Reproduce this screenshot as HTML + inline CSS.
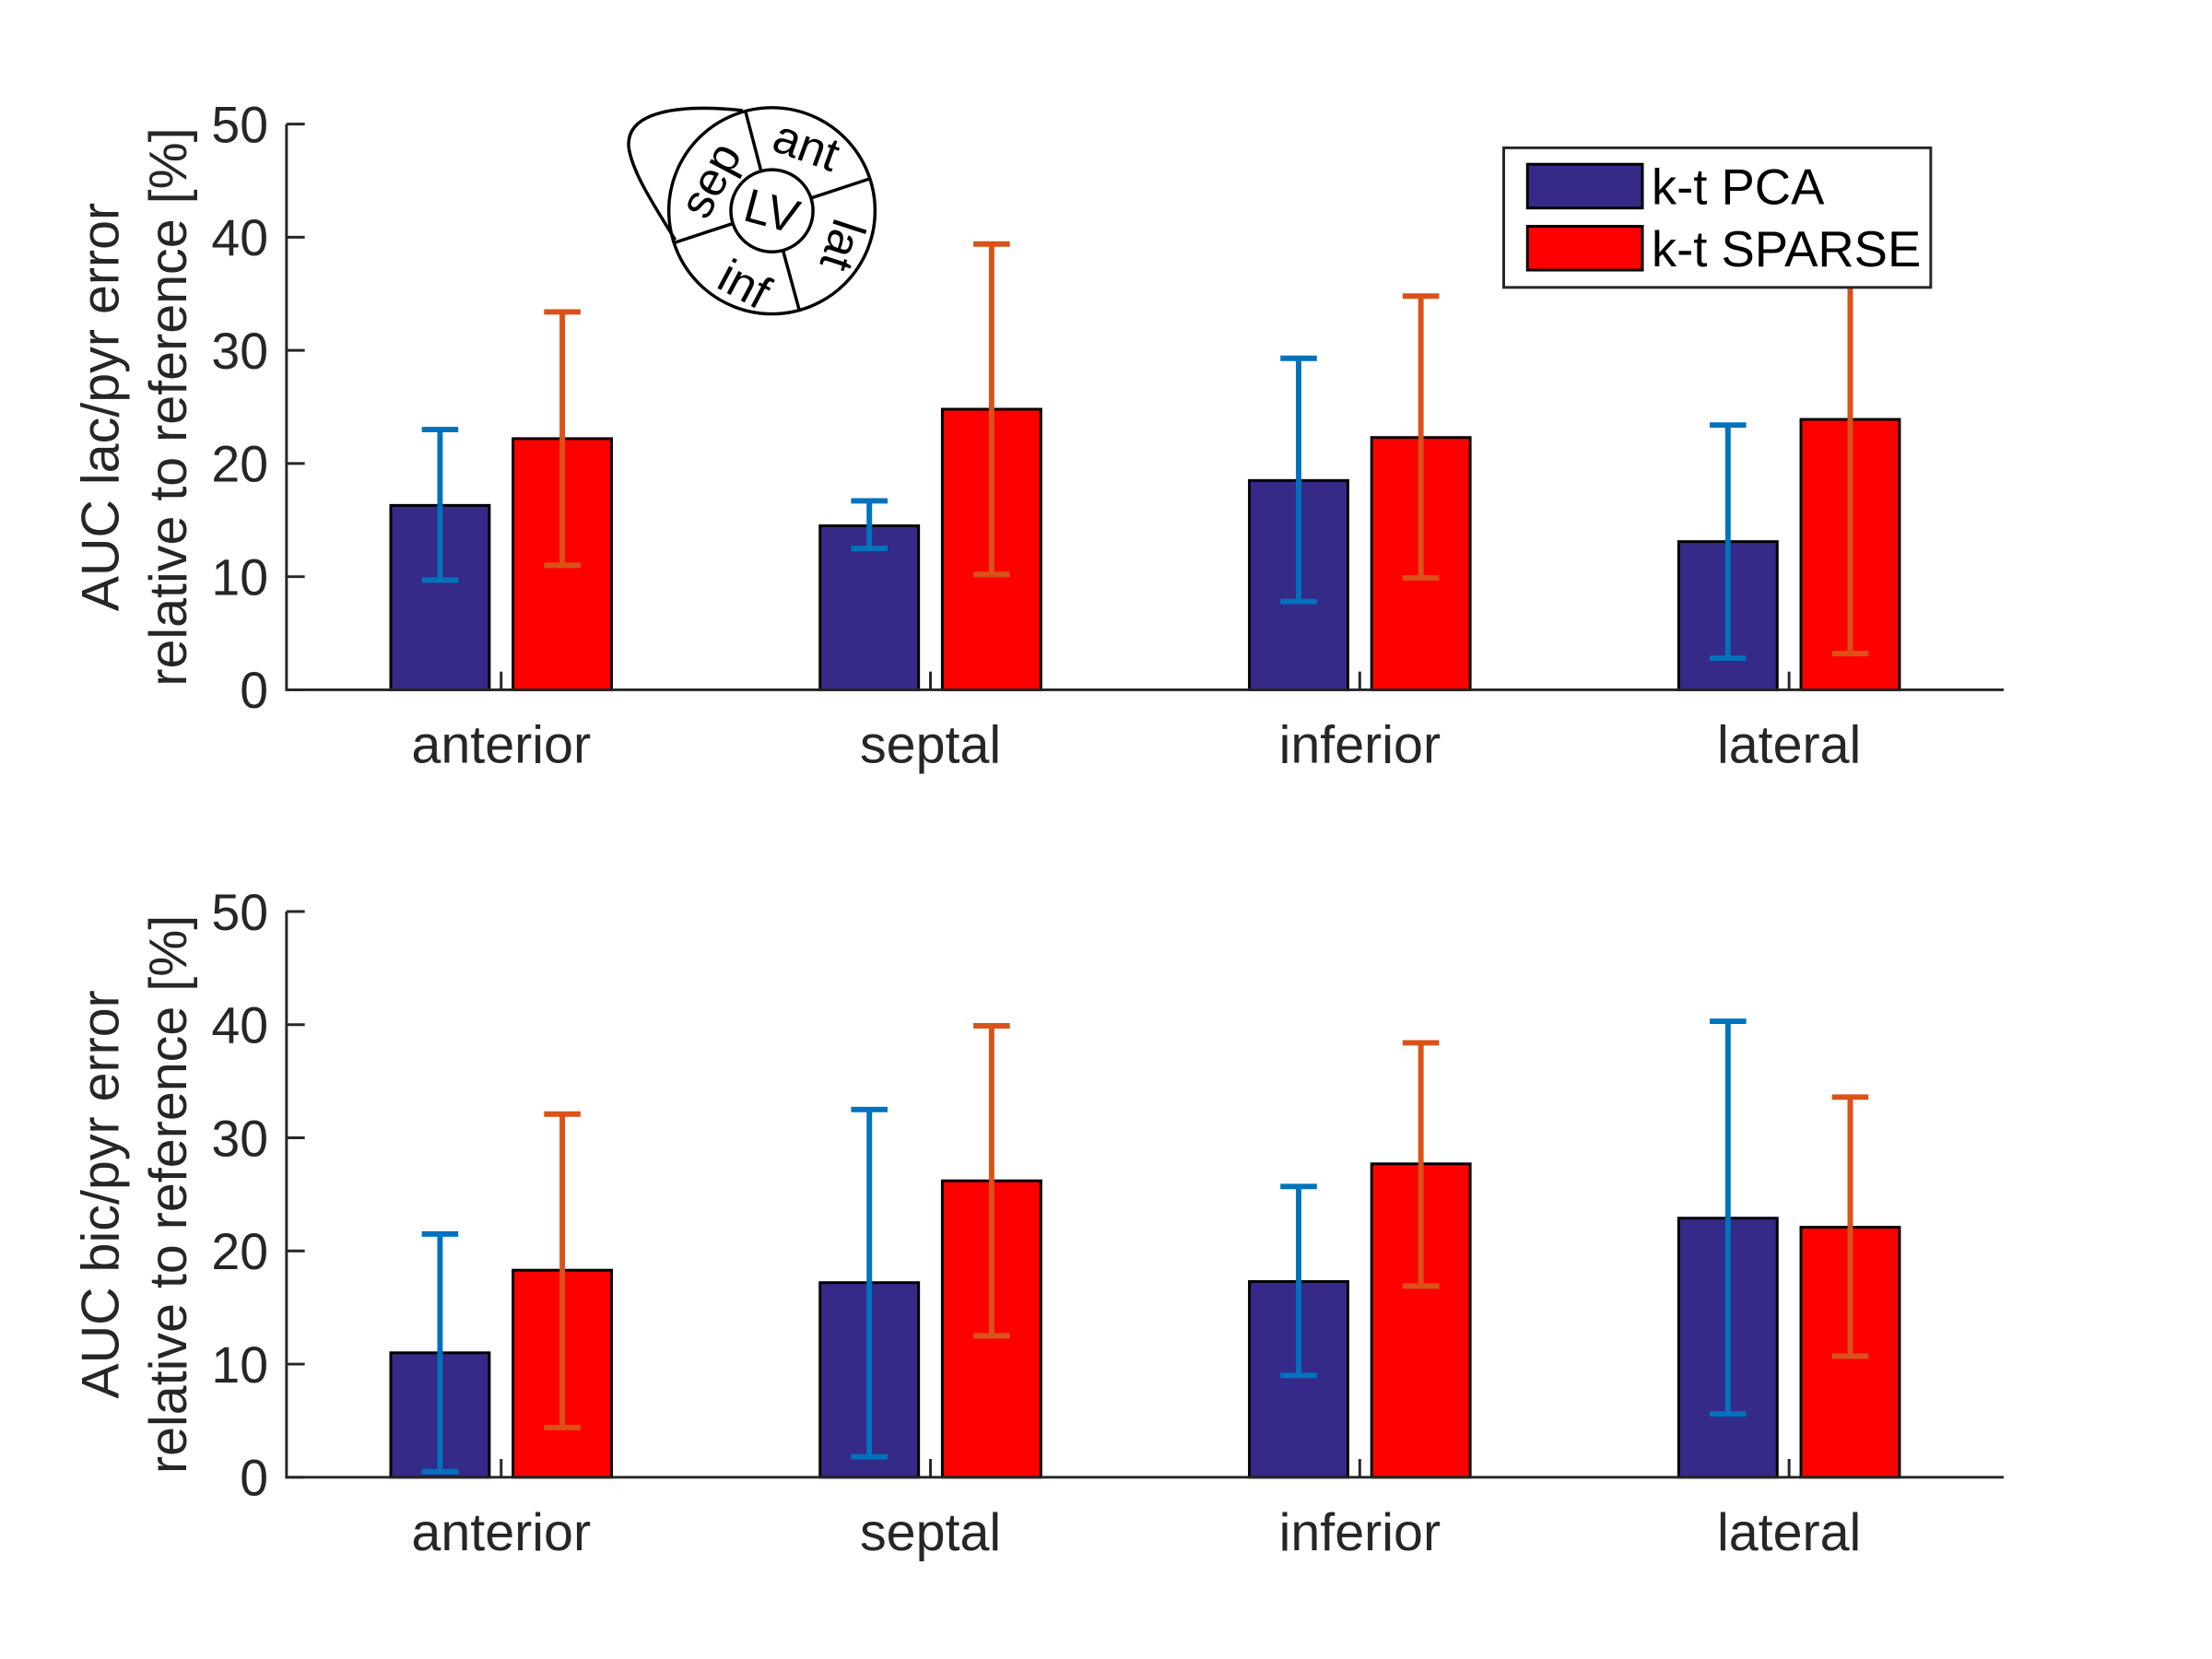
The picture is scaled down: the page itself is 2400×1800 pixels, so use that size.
<!DOCTYPE html>
<html><head><meta charset="utf-8"><style>
html,body{margin:0;padding:0;background:#fff}
svg{display:block}
text{font-family:"Liberation Sans",Arial,sans-serif}
</style></head><body>
<svg width="2400" height="1800" viewBox="0 0 2400 1800" xmlns="http://www.w3.org/2000/svg">
<rect width="2400" height="1800" fill="#fff"/>
<g id="chart" transform="scale(0.99)">
<g id="heart" transform="translate(846,231)" fill="none" stroke="#000" stroke-width="3.5">
  <path d="M -32,-110 C -100,-117 -160,-110 -157,-70 C -153,-40 -125,0 -106,32"/>
  <circle r="113"/>
  <circle r="45"/>
  <line x1="-12" y1="-44" x2="-29" y2="-109"/>
  <line x1="43" y1="-14" x2="107" y2="-35"/>
  <line x1="12" y1="43" x2="30" y2="109"/>
  <line x1="-43" y1="14" x2="-107" y2="35"/>
  <g stroke="none" fill="#000" font-size="52">
    <text text-anchor="middle" dominant-baseline="central" transform="rotate(15)">LV</text>
    <text text-anchor="middle" dominant-baseline="central" transform="translate(38,-72) rotate(20)">ant</text>
    <text text-anchor="middle" dominant-baseline="central" transform="translate(-68,-34) rotate(-62)">sep</text>
    <text text-anchor="middle" dominant-baseline="central" transform="translate(78,38) rotate(108)">lat</text>
    <text text-anchor="middle" dominant-baseline="central" transform="translate(-30,80) rotate(28)">inf</text>
  </g>
</g>
</g>
</svg>
<script>
const categories = ["anterior","septal","inferior","lateral"];
const seriesNames = ["k-t PCA","k-t SPARSE"];
const yTicks = [0,10,20,30,40,50];
const lacPca = [16.3,14.5,18.5,13.1];
const lacPcaLow = [9.7,12.5,7.8,2.8];
const lacPcaHigh = [23.0,16.7,29.3,23.4];
const lacSparse = [22.2,24.8,22.3,23.9];
const lacSparseLow = [11.0,10.2,9.9,3.2];
const lacSparseHigh = [33.4,39.4,34.8,44.6];
const bicPca = [11.0,17.2,17.3,22.9];
const bicPcaLow = [0.5,1.8,9.0,5.6];
const bicPcaHigh = [21.5,32.5,25.7,40.3];
const bicSparse = [18.3,26.2,27.7,22.1];
const bicSparseLow = [4.4,12.5,16.9,10.7];
const bicSparseHigh = [32.1,39.9,38.4,33.6];

const NS="http://www.w3.org/2000/svg";
const svg=document.getElementById('chart');
const heart=document.getElementById('heart');
function mk(tag,attrs,parent){const e=document.createElementNS(NS,tag);for(const k in attrs)e.setAttribute(k,attrs[k]);(parent||svg).appendChild(e);return e;}
const X0=314,X1=2196;
function xs(v){return X0+(v-0.5)/4*(X1-X0);}
const BW=108, OFF=67;

function panel(top,bottom,pca,pcaLo,pcaHi,sp,spLo,spHi,label1,label2,name){
  const g=mk('g',{});
  
  
  const ys=v=>bottom-(v/50)*(bottom-top);
  categories.forEach((c,i)=>{
    const cx=xs(i+1);
    [[pca,'#352a87',-OFF,'pca'],[sp,'#ff0000',OFF,'sparse']].forEach(([arr,col,o,nm])=>{
      const r=mk('rect',{x:cx+o-BW/2,y:ys(arr[i]),width:BW,height:ys(0)-ys(arr[i]),fill:col,stroke:'#000','stroke-width':3},g);
      
      
    });
  });
  categories.forEach((c,i)=>{
    const cx=xs(i+1);
    [[pcaLo,pcaHi,'#0072bd',-OFF,'pca'],[spLo,spHi,'#d95319',OFF,'sparse']].forEach(([loA,hiA,col,o,nm])=>{
      const eg=mk('g',{stroke:col,'stroke-width':6},g);
      
      
      const x=cx+o, lo=loA[i], hi=hiA[i];
      mk('line',{x1:x,x2:x,y1:ys(lo),y2:ys(hi)},eg);
      mk('line',{x1:x-20,x2:x+20,y1:ys(lo),y2:ys(lo)},eg);
      mk('line',{x1:x-20,x2:x+20,y1:ys(hi),y2:ys(hi)},eg);
    });
  });
  const ax=mk('g',{stroke:'#262626','stroke-width':3},g);
  
  
  mk('line',{x1:X0,x2:X0,y1:top,y2:bottom+1.5},ax);
  mk('line',{x1:X0,x2:X1,y1:bottom,y2:bottom},ax);
  yTicks.forEach(t=>{
    mk('line',{x1:X0,x2:X0+20,y1:ys(t),y2:ys(t)},ax);
    const tx=mk('text',{x:X0-20,y:ys(t)+20,'text-anchor':'end','font-size':56,fill:'#262626',stroke:'none'},g);
    tx.textContent=t;
    
    
  });
  categories.forEach((c,i)=>{
    const cx=xs(i+1);
    mk('line',{x1:cx,x2:cx,y1:bottom,y2:bottom-20},ax);
    const tx=mk('text',{x:cx,y:bottom+80,'text-anchor':'middle','font-size':58,fill:'#262626'},g);
    tx.textContent=c;
    
    
  });
  const mid=(top+bottom)/2;
  const yl=mk('text',{transform:`translate(130,${mid}) rotate(-90)`,'text-anchor':'middle','font-size':58,fill:'#262626'},g);
  yl.textContent=label1;
  
  
  const yl2=mk('text',{transform:`translate(204,${mid}) rotate(-90)`,'text-anchor':'middle','font-size':58,fill:'#262626'},g);
  yl2.textContent=label2;
  
  
}
panel(136,756,lacPca,lacPcaLow,lacPcaHigh,lacSparse,lacSparseLow,lacSparseHigh,'AUC lac/pyr error','relative to reference [%]','top-panel-lac');
panel(999,1619,bicPca,bicPcaLow,bicPcaHigh,bicSparse,bicSparseLow,bicSparseHigh,'AUC bic/pyr error','relative to reference [%]','bottom-panel-bic');

const lg=mk('g',{});


mk('rect',{x:1648,y:162,width:468,height:153,fill:'#fff',stroke:'#262626','stroke-width':3},lg);
[['#352a87',seriesNames[0],180],['#ff0000',seriesNames[1],248]].forEach(([col,nm,y])=>{
  const e=mk('g',{},lg);
  
  
  mk('rect',{x:1674,y:y,width:126,height:48,fill:col,stroke:'#000','stroke-width':3},e);
  const t=mk('text',{x:1810,y:y+44,'font-size':55,fill:'#000'},e);
  t.textContent=nm;
});
svg.appendChild(heart);
</script>
</body></html>
